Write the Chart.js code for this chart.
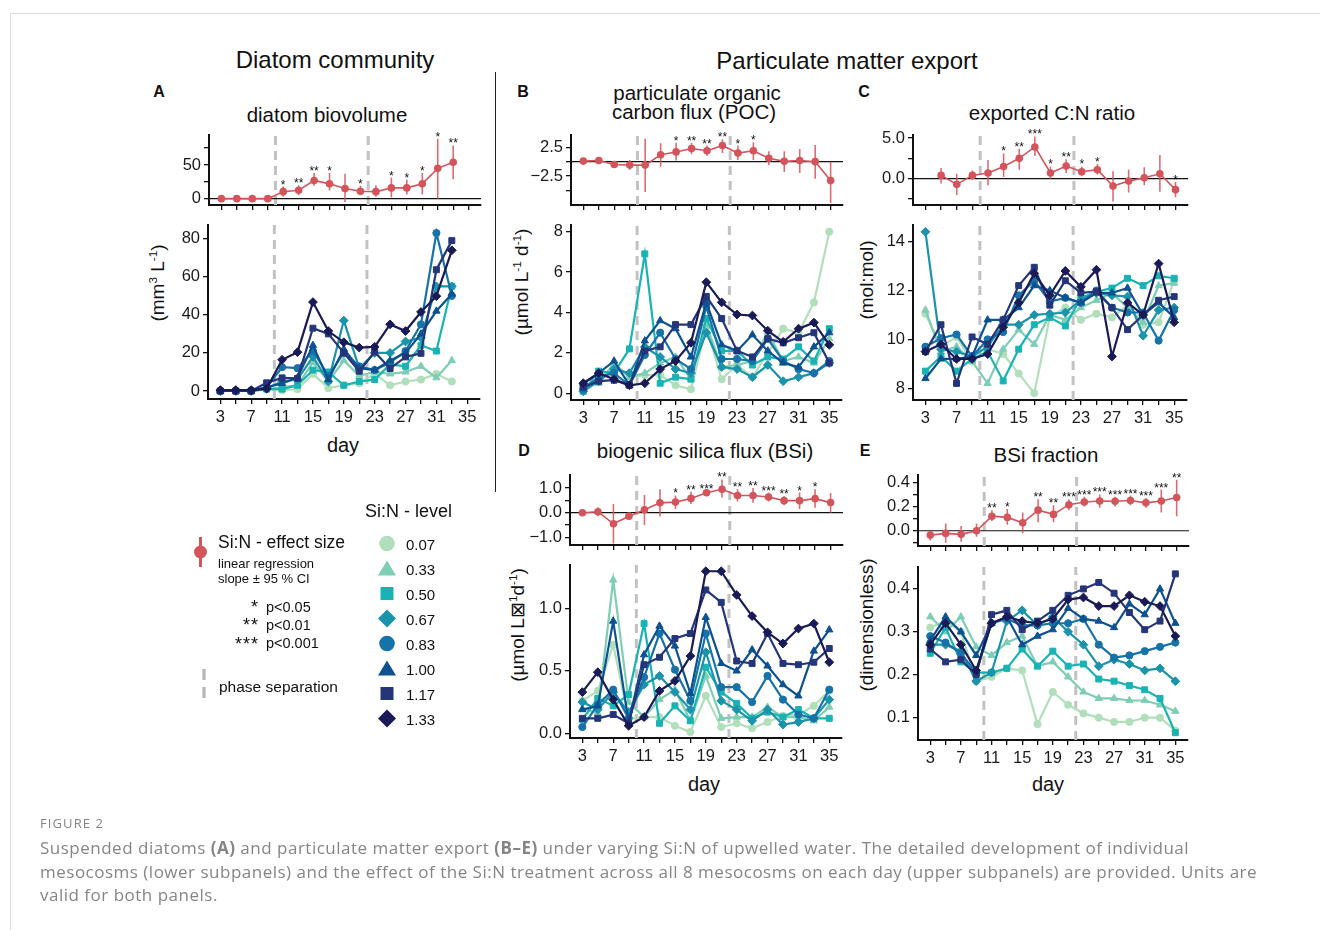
<!DOCTYPE html>
<html>
<head>
<meta charset="utf-8">
<script src="https://cdn.jsdelivr.net/npm/chart.js@4.4.1/dist/chart.umd.min.js"></script>
<style>
  body { margin: 0; background: #fff; width: 1320px; height: 930px; position: relative; overflow: hidden;
         font-family: "Liberation Sans", Arial, Helvetica, sans-serif; color: #111; }
  .t { position: absolute; white-space: nowrap; line-height: 1; }
  .c { transform: translate(-50%, -50%); }
  .l { transform: translateY(-50%); }
  .rot { transform: translate(-50%, -50%) rotate(-90deg); }
  canvas { position: absolute; }
  sup { font-size: 0.62em; vertical-align: 0.55em; line-height: 0; }
  .card { position: absolute; left: 10px; top: 13px; width: 1320px; height: 930px;
          border-top: 1px solid #dcdcdc; border-left: 1px solid #dcdcdc; }
  .cap { font-family: "Open Sans", sans-serif; color: #858585; }
</style>
</head>
<body>
<div class="card"></div>

<div class="t c" style="left:335px;top:60px;font-size:24px">Diatom community</div>
<div class="t c" style="left:847px;top:61px;font-size:24px">Particulate matter export</div>
<div style="position:absolute;left:495px;top:72px;width:1px;height:420px;background:#222"></div>

<div class="t c" style="left:159px;top:92px;font-size:16px;font-weight:bold">A</div>
<div class="t c" style="left:523px;top:92px;font-size:16px;font-weight:bold">B</div>
<div class="t c" style="left:864px;top:92px;font-size:16px;font-weight:bold">C</div>
<div class="t c" style="left:524px;top:451px;font-size:16px;font-weight:bold">D</div>
<div class="t c" style="left:865px;top:451px;font-size:16px;font-weight:bold">E</div>

<div class="t c" style="left:327px;top:115px;font-size:20.5px">diatom biovolume</div>
<div class="t c" style="left:697px;top:93px;font-size:20.5px">particulate organic</div>
<div class="t c" style="left:694px;top:112px;font-size:20.5px">carbon flux (POC)</div>
<div class="t c" style="left:1052px;top:113px;font-size:20.5px">exported C:N ratio</div>
<div class="t c" style="left:705px;top:451px;font-size:20.5px">biogenic silica flux (BSi)</div>
<div class="t c" style="left:1046px;top:455px;font-size:20.5px">BSi fraction</div>

<div class="t rot" style="left:157px;top:283px;font-size:19px">(mm<sup>3</sup> L<sup>-1</sup>)</div>
<div class="t rot" style="left:521px;top:282px;font-size:19px">(µmol L<sup>-1</sup> d<sup>-1</sup>)</div>
<div class="t rot" style="left:866px;top:280px;font-size:19px">(mol:mol)</div>
<div class="t rot" style="left:517px;top:625px;font-size:19px">(µmol L&#x22A0;<sup>1</sup>d<sup>-1</sup>)</div>
<div class="t rot" style="left:866px;top:625px;font-size:19px">(dimensionless)</div>

<div class="t c" style="left:343px;top:445px;font-size:20px">day</div>
<div class="t c" style="left:704px;top:784px;font-size:20px">day</div>
<div class="t c" style="left:1048px;top:784px;font-size:20px">day</div>

<canvas id="aUp"></canvas><canvas id="aLow"></canvas>
<canvas id="bUp"></canvas><canvas id="bLow"></canvas>
<canvas id="cUp"></canvas><canvas id="cLow"></canvas>
<canvas id="dUp"></canvas><canvas id="dLow"></canvas>
<canvas id="eUp"></canvas><canvas id="eLow"></canvas>

<!-- legend -->
<svg style="position:absolute;left:0;top:0" width="1320" height="930">
  <line x1="200.5" y1="537" x2="200.5" y2="567" stroke="#d4545c" stroke-width="3"/>
  <circle cx="200.5" cy="552" r="6.5" fill="#d4545c"/>
  <line x1="204" y1="669" x2="204" y2="704" stroke="#b8b8b8" stroke-width="3.3" stroke-dasharray="11,7"/>
  <g id="legShapes"></g>
</svg>
<div class="t l" style="left:218px;top:543px;font-size:17.5px">Si:N - effect size</div>
<div class="t l" style="left:218px;top:563px;font-size:13px">linear regression</div>
<div class="t l" style="left:218px;top:578px;font-size:13px">slope ± 95 % CI</div>
<div class="t" style="left:200px;top:598px;width:59px;text-align:right;font-size:18px;letter-spacing:1px">*</div>
<div class="t" style="left:200px;top:616px;width:59px;text-align:right;font-size:18px;letter-spacing:1px">**</div>
<div class="t" style="left:200px;top:635px;width:59px;text-align:right;font-size:18px;letter-spacing:1px">***</div>
<div class="t l" style="left:266px;top:607px;font-size:14.5px">p&lt;0.05</div>
<div class="t l" style="left:266px;top:625px;font-size:14.5px">p&lt;0.01</div>
<div class="t l" style="left:266px;top:643px;font-size:14.5px">p&lt;0.001</div>
<div class="t l" style="left:219px;top:687px;font-size:15.5px">phase separation</div>
<div class="t l" style="left:365px;top:511px;font-size:18px">Si:N - level</div>
<div id="legLabels"></div>

<div class="t l cap" style="left:40px;top:823px;font-size:13px;letter-spacing:1.1px">FIGURE 2</div>
<div class="t l cap" style="left:40px;top:847px;font-size:17px;letter-spacing:0.5px">Suspended diatoms <b>(A)</b> and particulate matter export <b>(B–E)</b> under varying Si:N of upwelled water. The detailed development of individual</div>
<div class="t l cap" style="left:40px;top:871px;font-size:17px;letter-spacing:0.5px">mesocosms (lower subpanels) and the effect of the Si:N treatment across all 8 mesocosms on each day (upper subpanels) are provided. Units are</div>
<div class="t l cap" style="left:40px;top:894px;font-size:17px;letter-spacing:0.5px">valid for both panels.</div>

<script>
const FONT = '"Liberation Sans", Arial, Helvetica, sans-serif';
const RED = '#d4545c';

const days = [3, 5, 7, 9, 11, 13, 15, 17, 19, 21, 23, 25, 27, 29, 31, 33, 35];
const daysA = days.slice(0, 16);      // biovolume stops at day 33
const daysC = days.slice(1);          // C:N effect starts at day 5
const xLabels = [3, 7, 11, 15, 19, 23, 27, 31, 35];
const phaseDays = [10, 22];

const levels = ['0.07', '0.33', '0.50', '0.67', '0.83', '1.00', '1.17', '1.33'];
const levelColors = ['#b2dfbb', '#7fcdb5', '#19b3b3', '#1b93ab', '#1772a8', '#0d5191', '#25357a', '#1a1a57'];
const levelShapes = ['circle', 'triangle', 'rect', 'rectRot', 'circle', 'triangle', 'rect', 'rectRot'];
const levelRadius = [3.6, 4.2, 4.2, 4.4, 3.6, 4.2, 4.2, 4.4];

// ---- A: diatom biovolume (mm3 L-1), one row per Si:N level ----
const biovolume = [
  [0, 0, 0, 1, 0.5, 1, 9, 1.5, 3, 4, 9, 3, 5, 6, 9, 5],
  [0, 0, 0, 1, 2, 3, 15, 5, 16, 8, 10, 9, 10, 13, 7, 16],
  [0, 0, 0, 1, 1, 3, 11, 10, 3, 5, 6, 14, 13, 24, 21, 55],
  [0, 0, 0, 1.5, 5, 6, 18, 5, 37, 12, 20, 20, 26, 28, 55, 55],
  [0, 0, 0, 2, 12.5, 12, 21, 8, 20, 13, 11, 15, 21, 35, 83, 50],
  [0, 0, 0, 2, 4, 7, 24, 6, 22, 12, 11, 16, 20, 30, 42, 51],
  [0, 0, 0, 4.3, 6.9, 6.6, 33, 30, 20, 10.4, 20.5, 11.8, 17.9, 19.8, 63.7, 79],
  [0.5, 0.5, 0.5, 1.2, 16.4, 20.4, 46.7, 31.5, 25.6, 22.8, 23.2, 35, 31.5, 41.5, 49.8, 73.9]
];
const effA   = [0, 0, 0, 0, 10.4, 12.4, 27, 22, 15, 11, 10.4, 16, 16, 22, 45, 54];
const effALo = [-0.5, -0.5, -0.5, -0.5, 3, 5, 19, 12, -5, 5, 3, 2, 6, 6, 0, 29];
const effAHi = [0.5, 0.5, 0.5, 0.5, 18, 20, 38, 38, 37, 19, 20, 31, 28, 38, 89, 79];
const starsA = ['', '', '', '', '*', '**', '**', '*', '', '*', '', '*', '*', '*', '*', '**'];

// ---- B: POC flux (umol L-1 d-1) ----
const pocFlux = [
  [0.3, 0.6, 1.4, 0.8, 0.9, 0.9, 0.4, 0.2, 3.3, 0.7, 1.4, 0.8, 2.0, 3.2, 3.0, 4.5, 8.0],
  [0.4, 0.5, 1.5, 0.8, 1.0, 1.5, 1.8, 0.7, 3.4, 1.3, 1.4, 1.6, 3.0, 1.6, 1.8, 1.5, 2.7],
  [0.1, 1.1, 1.0, 2.2, 6.9, 0.5, 0.8, 0.7, 3.7, 2.1, 2.1, 1.4, 1.8, 1.7, 2.3, 1.6, 3.2],
  [0.1, 0.6, 1.2, 1.0, 2.3, 1.8, 1.2, 1.0, 3.0, 1.3, 1.2, 0.8, 1.4, 0.6, 0.8, 1.0, 1.5],
  [0.2, 0.8, 1.0, 0.4, 1.9, 3.0, 1.7, 1.2, 4.3, 1.7, 1.7, 1.6, 2.7, 1.6, 1.2, 1.0, 1.6],
  [0.5, 1.0, 1.6, 0.4, 2.6, 3.6, 3.2, 1.8, 4.5, 2.4, 2.1, 2.9, 2.1, 1.5, 1.3, 2.3, 3.0],
  [0.3, 0.6, 0.65, 0.4, 2.1, 2.3, 3.4, 3.4, 4.8, 3.7, 2.1, 1.8, 2.7, 2.5, 2.75, 3.0, 1.5],
  [0.5, 1.0, 0.7, 0.4, 0.5, 1.2, 1.6, 2.5, 5.5, 4.5, 3.9, 3.85, 3.1, 2.55, 3.2, 3.5, 2.4]
];
const effB   = [0.1, 0.2, -0.5, -0.6, -0.6, 1.2, 1.7, 2.3, 1.9, 2.8, 1.5, 1.9, 0.6, 0.05, 0.2, 0, -3.3];
const effBLo = [-0.2, -0.1, -0.9, -1.4, -5.3, -0.9, 0.2, 1.3, 1.0, 1.5, 0.3, 0.3, -0.6, -1.8, -2.0, -3.0, -7.2];
const effBHi = [0.3, 0.4, -0.1, 0.3, 4.0, 3.2, 3.3, 3.3, 2.8, 3.9, 2.8, 3.4, 1.8, 1.8, 2.2, 2.9, 0.0];
const starsB = ['', '', '', '', '', '', '*', '**', '**', '**', '*', '*', '', '', '', '', ''];

// ---- C: exported C:N ratio (mol:mol) ----
const cnRatio = [
  [11.05, 9.7, 10.1, 9.1, 9.6, 9.4, 8.6, 7.8, 10.9, 11.3, 10.8, 11.05, 10.9, 11.4, 10.6, 10.7, 12.4],
  [11.2, 9.5, 9.7, 9.1, 8.2, 9.6, 10.4, 9.8, 11.0, 10.8, 11.3, 11.6, 11.9, 11.3, 10.7, 12.2, 12.3],
  [8.7, 9.3, 8.7, 9.2, 9.5, 8.3, 9.6, 10.6, 10.9, 10.55, 11.7, 11.95, 12.1, 12.5, 12.2, 12.6, 12.5],
  [14.4, 9.6, 9.5, 9.3, 9.7, 10.6, 10.6, 11.0, 11.05, 11.1, 11.6, 11.9, 11.8, 11.75, 10.15, 11.2, 11.3],
  [9.7, 10.05, 10.2, 9.3, 10.0, 10.3, 11.8, 12.4, 11.55, 11.7, 11.5, 12.0, 11.3, 11.1, 11.1, 9.95, 11.2],
  [8.4, 9.2, 9.2, 9.3, 10.8, 10.8, 11.3, 12.2, 12.0, 11.7, 11.5, 11.9, 11.9, 12.1, 11.0, 11.5, 10.9],
  [9.5, 10.6, 8.2, 10.1, 9.8, 10.8, 12.2, 12.95, 11.4, 12.4, 11.9, 11.95, 11.3, 10.4, 11.0, 11.6, 11.75],
  [9.5, 9.8, 9.2, 9.2, 9.4, 10.5, 11.5, 12.7, 11.8, 12.8, 12.15, 12.85, 9.3, 11.5, 11.0, 13.1, 10.7]
];
const effC   = [0.4, -0.7, 0.4, 0.7, 1.5, 2.5, 3.9, 0.7, 1.55, 0.85, 1.1, -0.9, -0.3, 0.1, 0.6, -1.35];
const effCLo = [-0.6, -2, -0.1, -0.8, 0.2, 1.1, 2.8, 0, 0.7, 0.3, 0.5, -2.8, -1.7, -0.8, -1.6, -2.3];
const effCHi = [1.3, 0.6, 1.0, 2.3, 3.1, 3.7, 5.2, 1.5, 2.4, 1.5, 1.8, 0.9, 1.1, 1.4, 2.9, -0.4];
const starsC = ['', '', '', '', '*', '**', '***', '*', '**', '*', '*', '', '', '', '', '*'];

// ---- D: biogenic silica flux (umol L-1 d-1) ----
const bsiFlux = [
  [0.26, 0.34, 0.71, 0.12, 0.13, 0.13, 0.06, 0.01, 0.30, 0.05, 0.08, 0.04, 0.09, 0.14, 0.15, 0.22, 0.34],
  [0.20, 0.16, 1.23, 0.25, 0.13, 0.27, 0.35, 0.10, 0.46, 0.12, 0.13, 0.13, 0.21, 0.13, 0.13, 0.10, 0.21],
  [0.11, 0.28, 0.22, 0.31, 0.88, 0.08, 0.22, 0.10, 0.53, 0.33, 0.24, 0.12, 0.17, 0.13, 0.19, 0.12, 0.12],
  [0.25, 0.19, 0.33, 0.17, 0.39, 0.46, 0.33, 0.19, 0.65, 0.26, 0.19, 0.10, 0.19, 0.07, 0.09, 0.12, 0.27],
  [0.05, 0.23, 0.35, 0.12, 0.45, 0.80, 0.51, 0.26, 0.80, 0.37, 0.37, 0.25, 0.46, 0.27, 0.15, 0.12, 0.35],
  [0.19, 0.22, 0.90, 0.09, 0.63, 0.86, 0.70, 0.32, 0.93, 0.56, 0.50, 0.67, 0.54, 0.39, 0.30, 0.66, 0.83],
  [0.12, 0.12, 0.15, 0.08, 0.55, 0.61, 0.76, 0.80, 1.15, 1.05, 0.58, 0.56, 0.80, 0.56, 0.55, 0.57, 0.68],
  [0.33, 0.49, 0.27, 0.06, 0.13, 0.34, 0.42, 0.62, 1.30, 1.30, 1.11, 0.94, 0.81, 0.72, 0.84, 0.88, 0.57]
];
const effD   = [0, 0.04, -0.45, -0.14, 0.12, 0.4, 0.43, 0.58, 0.81, 0.95, 0.70, 0.70, 0.64, 0.49, 0.49, 0.57, 0.41];
const effDLo = [-0.12, -0.14, -1.25, -0.25, -0.5, -0.15, 0.15, 0.35, 0.72, 0.62, 0.45, 0.4, 0.45, 0.3, 0.15, 0.2, 0.0];
const effDHi = [0.12, 0.22, 0.35, -0.03, 0.72, 0.95, 0.7, 0.85, 0.9, 1.35, 0.95, 1.0, 0.82, 0.68, 0.82, 0.95, 0.8];
const starsD = ['', '', '', '', '', '', '*', '**', '***', '**', '**', '**', '***', '**', '*', '*', ''];

// ---- E: BSi fraction (dimensionless) ----
const bsiFraction = [
  [0.31, 0.325, 0.30, 0.185, 0.195, 0.215, 0.21, 0.085, 0.16, 0.13, 0.11, 0.10, 0.09, 0.09, 0.10, 0.10, 0.07],
  [0.335, 0.30, 0.335, 0.265, 0.245, 0.275, 0.29, 0.22, 0.23, 0.195, 0.16, 0.145, 0.145, 0.14, 0.14, 0.13, 0.115],
  [0.25, 0.31, 0.23, 0.205, 0.205, 0.215, 0.26, 0.22, 0.255, 0.22, 0.225, 0.19, 0.185, 0.175, 0.165, 0.145, 0.065],
  [0.27, 0.27, 0.255, 0.185, 0.205, 0.325, 0.35, 0.315, 0.335, 0.30, 0.27, 0.22, 0.235, 0.225, 0.21, 0.215, 0.185],
  [0.29, 0.275, 0.25, 0.205, 0.32, 0.33, 0.315, 0.315, 0.32, 0.32, 0.33, 0.27, 0.24, 0.245, 0.255, 0.265, 0.275],
  [0.28, 0.335, 0.30, 0.245, 0.32, 0.335, 0.27, 0.29, 0.305, 0.355, 0.33, 0.325, 0.31, 0.365, 0.34, 0.40, 0.32],
  [0.26, 0.23, 0.235, 0.20, 0.34, 0.35, 0.305, 0.325, 0.35, 0.385, 0.40, 0.415, 0.39, 0.345, 0.305, 0.325, 0.435],
  [0.27, 0.32, 0.27, 0.21, 0.32, 0.335, 0.325, 0.32, 0.33, 0.375, 0.38, 0.36, 0.36, 0.385, 0.37, 0.36, 0.29]
];
const effE   = [-0.036, -0.022, -0.03, 0, 0.12, 0.11, 0.065, 0.17, 0.135, 0.215, 0.237, 0.245, 0.243, 0.25, 0.23, 0.245, 0.274];
const effELo = [-0.08, -0.1, -0.09, -0.05, 0.08, 0.05, -0.02, 0.07, 0.07, 0.17, 0.2, 0.19, 0.2, 0.21, 0.19, 0.15, 0.12];
const effEHi = [0.0, 0.06, 0.04, 0.06, 0.17, 0.18, 0.15, 0.26, 0.21, 0.26, 0.28, 0.3, 0.28, 0.29, 0.27, 0.34, 0.42];
const starsE = ['', '', '', '', '**', '*', '', '**', '**', '***', '***', '***', '***', '***', '***', '***', '**'];

const X_MIN = 1.4, X_MAX = 36.6;
const Y_W = 60;

// significance stars above the CI bars
const starPlugin = {
  id: 'stars',
  afterDatasetsDraw(chart, args, opts) {
    if (!opts.marks) return;
    const { ctx, scales: { x, y } } = chart;
    ctx.save();
    ctx.font = '12px ' + FONT;
    ctx.textAlign = 'center';
    ctx.fillStyle = '#111';
    opts.marks.forEach((m, i) => {
      if (!m) return;
      ctx.fillText(m, x.getPixelForValue(opts.days[i]), y.getPixelForValue(opts.hi[i]) + 2);
    });
    ctx.restore();
  }
};

function axisStyle() {
  return {
    grid: { drawOnChartArea: false, drawTicks: true, tickLength: 5, color: '#111', lineWidth: 1.3 },
    border: { display: true, color: '#111', width: 2 }
  };
}

function xScale(showLabels) {
  return Object.assign({
    type: 'linear', min: X_MIN, max: X_MAX,
    afterBuildTicks: s => { s.ticks = days.map(v => ({ value: v })); },
    afterFit: s => { s.height = showLabels ? 30 : 8; s.paddingLeft = 0; s.paddingRight = 0; },
    ticks: {
      display: showLabels, autoSkip: false, maxRotation: 0, padding: 4, color: '#1a1a1a',
      font: { size: 16.5, family: FONT },
      callback: v => xLabels.includes(v) ? String(v) : ''
    }
  }, axisStyle());
}

function yScale(min, max, ticks, labels) {
  return Object.assign({
    type: 'linear', min: min, max: max,
    afterBuildTicks: s => { s.ticks = ticks.map(v => ({ value: v })); },
    afterFit: s => { s.width = Y_W; s.paddingTop = 0; s.paddingBottom = 0; },
    ticks: {
      autoSkip: false, padding: 3, color: '#1a1a1a', font: { size: 16.5, family: FONT },
      callback: (v, i) => labels[i]
    }
  }, axisStyle());
}

function phaseLines(ymin, ymax) {
  return phaseDays.map(d => ({
    data: [{ x: d, y: ymin }, { x: d, y: ymax }],
    borderColor: '#c2c2c2', borderWidth: 3, borderDash: [9, 6],
    pointRadius: 0, order: 50
  }));
}

function place(id, box, padTop, xH) {
  const cv = document.getElementById(id);
  const w = box.right - box.axisX + Y_W;
  const h = padTop + (box.bottom - box.top) + xH;
  cv.width = w; cv.height = h;
  cv.style.left = (box.axisX - Y_W) + 'px';
  cv.style.top = (box.top - padTop) + 'px';
  cv.style.width = w + 'px'; cv.style.height = h + 'px';
  return cv;
}

function baseOptions(x, y, padTop, extra) {
  return {
    responsive: false, animation: false, devicePixelRatio: 1, events: [],
    layout: { padding: { top: padTop, left: 0, right: 0, bottom: 0 } },
    plugins: Object.assign({ legend: { display: false }, tooltip: { enabled: false } }, extra || {}),
    scales: { x: x, y: y }
  };
}

function drawUpper(id, box, xs, eff, lo, hi, marks, ymin, ymax, ticks, labels) {
  const padTop = 16;
  const cv = place(id, box, padTop, 8);
  const bars = [];
  xs.forEach((d, i) => { bars.push({ x: d, y: lo[i] }, { x: d, y: hi[i] }, { x: d, y: null }); });
  new Chart(cv, {
    type: 'line',
    data: {
      datasets: [
        { data: [{ x: X_MIN, y: 0 }, { x: X_MAX, y: 0 }], borderColor: '#111', borderWidth: 1.2, pointRadius: 0, order: 40 },
        ...phaseLines(ymin, ymax),
        { data: bars, borderColor: 'rgba(212,84,92,0.85)', borderWidth: 1.6, pointRadius: 0, spanGaps: false, order: 10 },
        { data: xs.map((d, i) => ({ x: d, y: eff[i] })), borderColor: RED, backgroundColor: RED,
          borderWidth: 1.6, pointRadius: 3.8, pointBorderWidth: 0, tension: 0, order: 5, clip: 8 }
      ]
    },
    options: baseOptions(xScale(false), yScale(ymin, ymax, ticks, labels), padTop,
                         { stars: { marks: marks, days: xs, hi: hi } }),
    plugins: [starPlugin]
  });
}

function drawLower(id, box, xs, rows, ymin, ymax, ticks, labels) {
  const padTop = 8;
  const cv = place(id, box, padTop, 30);
  const sets = levels.map((lv, i) => ({
    label: lv,
    data: xs.map((d, j) => ({ x: d, y: rows[i][j] })),
    borderColor: levelColors[i], backgroundColor: levelColors[i],
    pointStyle: levelShapes[i], pointRadius: levelRadius[i], pointBorderWidth: 1,
    borderWidth: 2.2, tension: 0, order: 20 - i, clip: 8
  }));
  new Chart(cv, {
    type: 'line',
    data: { datasets: [...phaseLines(ymin, ymax), ...sets] },
    options: baseOptions(xScale(true), yScale(ymin, ymax, ticks, labels), padTop)
  });
}

// A
drawUpper('aUp', { axisX: 209, top: 135, bottom: 205, right: 485 }, daysA, effA, effALo, effAHi, starsA,
  -9.4, 94.5, [0, 25, 50, 75], ['0', '', '50', '']);
drawLower('aLow', { axisX: 208, top: 225, bottom: 399, right: 485 }, daysA, biovolume,
  -4.2, 87.2, [0, 20, 40, 60, 80], ['0', '20', '40', '60', '80']);
// B
drawUpper('bUp', { axisX: 571, top: 135, bottom: 205, right: 847 }, days, effB, effBLo, effBHi, starsB,
  -7.56, 4.65, [-5, -2.5, 0, 2.5], ['', '\u22122.5', '', '2.5']);
drawLower('bLow', { axisX: 571, top: 225, bottom: 400, right: 847 }, days, pocFlux,
  -0.33, 8.33, [0, 2, 4, 6, 8], ['0', '2', '4', '6', '8']);
// C
drawUpper('cUp', { axisX: 913, top: 135, bottom: 205, right: 1192 }, daysC, effC, effCLo, effCHi, starsC,
  -3.24, 5.37, [-2.5, 0, 2.5, 5], ['', '0.0', '', '5.0']);
drawLower('cLow', { axisX: 913, top: 225, bottom: 400, right: 1192 }, days, cnRatio,
  7.52, 14.68, [8, 10, 12, 14], ['8', '10', '12', '14']);
// D
drawUpper('dUp', { axisX: 570, top: 475, bottom: 545, right: 847 }, days, effD, effDLo, effDHi, starsD,
  -1.31, 1.53, [-1, -0.5, 0, 0.5, 1], ['\u22121.0', '', '0.0', '', '1.0']);
drawLower('dLow', { axisX: 570, top: 565, bottom: 738, right: 847 }, days, bsiFlux,
  -0.038, 1.35, [0, 0.5, 1.0], ['0.0', '0.5', '1.0']);
// E
drawUpper('eUp', { axisX: 918, top: 475, bottom: 546, right: 1193 }, days, effE, effELo, effEHi, starsE,
  -0.126, 0.46, [-0.1, 0, 0.1, 0.2, 0.3, 0.4], ['', '0.0', '', '0.2', '', '0.4']);
drawLower('eLow', { axisX: 918, top: 567, bottom: 740, right: 1193 }, days, bsiFraction,
  0.048, 0.451, [0.1, 0.2, 0.3, 0.4], ['0.1', '0.2', '0.3', '0.4']);

// Si:N level legend
const legG = document.getElementById('legShapes');
const legLabels = document.getElementById('legLabels');
levels.forEach((lv, i) => {
  const cx = 387, cy = 543.5 + i * 25;
  const col = levelColors[i];
  let el;
  if (levelShapes[i] === 'circle') {
    el = `<circle cx="${cx}" cy="${cy}" r="7.8" fill="${col}"/>`;
  } else if (levelShapes[i] === 'triangle') {
    el = `<polygon points="${cx - 9},${cy + 7} ${cx + 9},${cy + 7} ${cx},${cy - 8}" fill="${col}"/>`;
  } else if (levelShapes[i] === 'rect') {
    el = `<rect x="${cx - 6.5}" y="${cy - 6.5}" width="13" height="13" fill="${col}"/>`;
  } else {
    el = `<polygon points="${cx},${cy - 9} ${cx + 9},${cy} ${cx},${cy + 9} ${cx - 9},${cy}" fill="${col}"/>`;
  }
  legG.insertAdjacentHTML('beforeend', el);
  legLabels.insertAdjacentHTML('beforeend',
    `<div class="t l" style="left:406px;top:${cy}px;font-size:15px">${lv}</div>`);
});
</script>
</body>
</html>
